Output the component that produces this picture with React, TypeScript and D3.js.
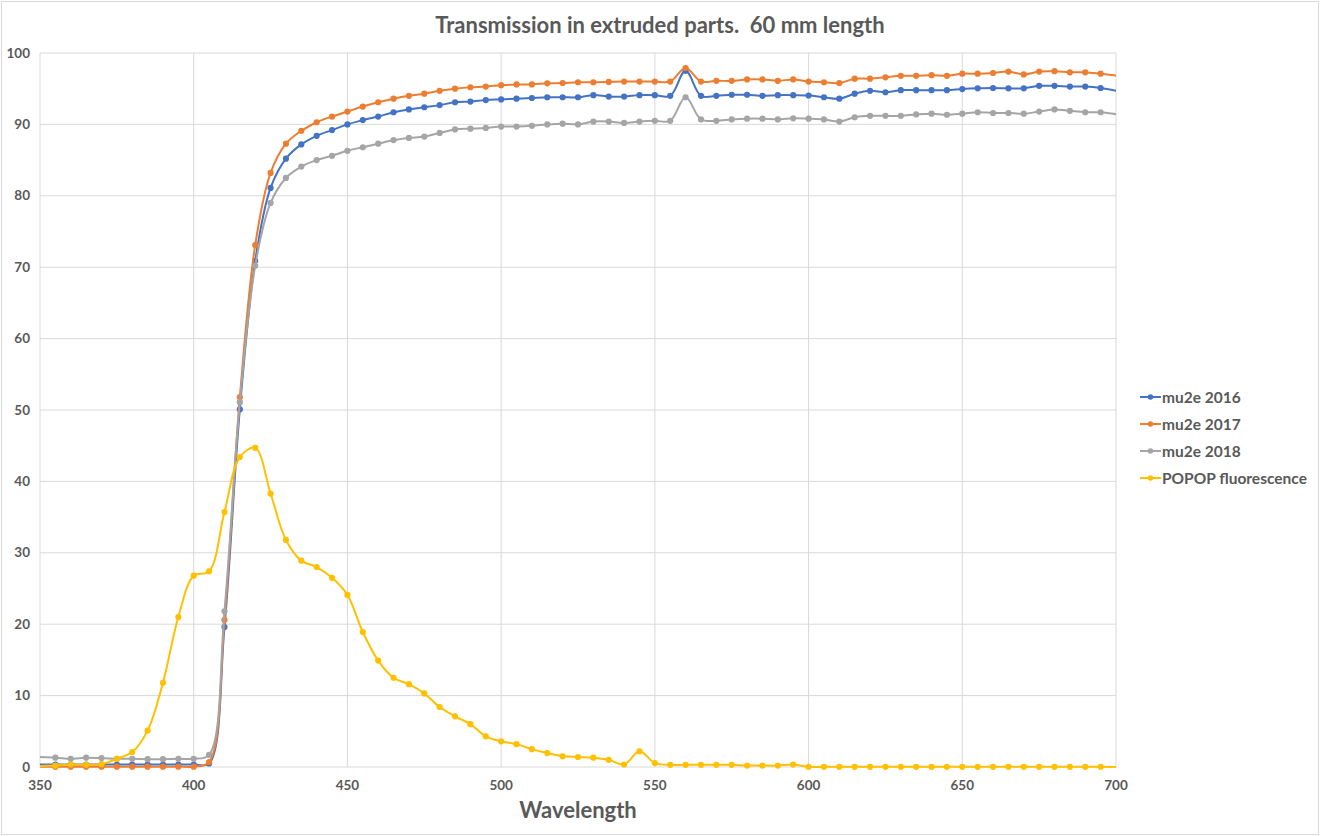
import React, { useEffect, useRef } from "react";
import * as d3 from "d3";

// Wavelength samples (nm); 345 and 705 lie just outside the axis and are clipped
const wavelengths = [
  345, 355, 360, 365, 370, 375, 380, 385, 390, 395, 400, 405, 410, 415, 420, 425, 430, 435, 440, 445,
  450, 455, 460, 465, 470, 475, 480, 485, 490, 495, 500, 505, 510, 515, 520, 525, 530, 535, 540, 545,
  550, 555, 560, 565, 570, 575, 580, 585, 590, 595, 600, 605, 610, 615, 620, 625, 630, 635, 640, 645,
  650, 655, 660, 665, 670, 675, 680, 685, 690, 695, 705,
];

const mu2e2016 = [
  0.35, 0.35, 0.35, 0.35, 0.35, 0.35, 0.35, 0.35, 0.35, 0.35, 0.35, 0.5, 19.6, 50.1, 70.9, 81.1, 85.2, 87.2, 88.4, 89.2,
  90.0, 90.6, 91.1, 91.7, 92.1, 92.4, 92.7, 93.1, 93.2, 93.4, 93.5, 93.6, 93.7, 93.8, 93.8, 93.8, 94.1, 93.9, 93.9, 94.1,
  94.1, 94.0, 97.5, 94.0, 94.0, 94.15, 94.15, 94.0, 94.1, 94.1, 94.05, 93.8, 93.6, 94.3, 94.7, 94.5, 94.8, 94.8, 94.8, 94.8,
  94.95, 95.05, 95.1, 95.05, 95.05, 95.4, 95.4, 95.3, 95.3, 95.1, 94.3,
];

const mu2e2017 = [
  0.05, 0.05, 0.05, 0.05, 0.05, 0.05, 0.05, 0.05, 0.05, 0.05, 0.05, 0.7, 20.6, 51.8, 73.1, 83.2, 87.3, 89.1, 90.3, 91.1,
  91.8, 92.5, 93.1, 93.6, 94.0, 94.3, 94.7, 95.0, 95.2, 95.3, 95.5, 95.6, 95.6, 95.75, 95.8, 95.9, 95.9, 95.95, 96.0, 96.0,
  96.0, 96.0, 97.9, 96.0, 96.1, 96.1, 96.3, 96.3, 96.1, 96.3, 96.0, 95.9, 95.8, 96.4, 96.4, 96.6, 96.8, 96.8, 96.9, 96.8,
  97.1, 97.1, 97.2, 97.4, 97.0, 97.4, 97.45, 97.3, 97.3, 97.1, 96.6,
];

const mu2e2018 = [
  1.45, 1.3, 1.15, 1.3, 1.25, 1.15, 1.15, 1.1, 1.1, 1.15, 1.15, 1.7, 21.8, 51.1, 70.2, 79.0, 82.5, 84.1, 85.0, 85.6,
  86.3, 86.8, 87.3, 87.8, 88.1, 88.3, 88.8, 89.3, 89.4, 89.5, 89.7, 89.7, 89.8, 90.0, 90.1, 90.0, 90.4, 90.4, 90.2, 90.4,
  90.5, 90.5, 93.8, 90.7, 90.5, 90.7, 90.8, 90.8, 90.7, 90.85, 90.8, 90.7, 90.4, 91.0, 91.2, 91.2, 91.2, 91.4, 91.5, 91.35,
  91.5, 91.7, 91.6, 91.6, 91.5, 91.8, 92.1, 91.9, 91.7, 91.7, 91.1,
];

const popop = [
  0.1, 0.2, 0.35, 0.3, 0.4, 1.15, 2.1, 5.1, 11.8, 21.0, 26.8, 27.4, 35.7, 43.4, 44.7, 38.3, 31.8, 28.9, 28.0, 26.5,
  24.1, 18.9, 14.9, 12.5, 11.6, 10.3, 8.4, 7.1, 6.0, 4.3, 3.6, 3.2, 2.5, 1.95, 1.5, 1.4, 1.3, 1.0, 0.35, 2.2,
  0.55, 0.3, 0.3, 0.3, 0.3, 0.3, 0.2, 0.2, 0.2, 0.35, 0.02, 0.02, 0.02, 0.02, 0.02, 0.02, 0.02, 0.02, 0.02, 0.02,
  0.02, 0.02, 0.02, 0.02, 0.02, 0.02, 0.02, 0.02, 0.02, 0.02, 0.0,
];

const seriesNames = ["mu2e 2016", "mu2e 2017", "mu2e 2018", "POPOP fluorescence"];
const seriesColors = ["#4472C4", "#ED7D31", "#A5A5A5", "#FFC000"];
const xTicks = [350, 400, 450, 500, 550, 600, 650, 700];
const yTicks = [0, 10, 20, 30, 40, 50, 60, 70, 80, 90, 100];

const W = 1320;
const H = 836;
const margin = { top: 53, right: 204, bottom: 69, left: 40 };
const font = "Lato, 'Open Sans', sans-serif";
const textColor = "#595959";

function Chart() {
  const ref = useRef<SVGSVGElement>(null);

  useEffect(() => {
    const svg = d3.select(ref.current).html("");
    const pw = W - margin.left - margin.right;
    const ph = H - margin.top - margin.bottom;

    const x = d3.scaleLinear().domain([350, 700]).range([0, pw]);
    const y = d3.scaleLinear().domain([0, 100]).range([ph, 0]);

    // chart border
    svg.append("rect")
      .attr("x", 1.5).attr("y", 1.5)
      .attr("width", W - 3).attr("height", H - 3)
      .attr("fill", "white").attr("stroke", "#D9D9D9");

    svg.append("text")
      .attr("x", W / 2).attr("y", 33)
      .attr("text-anchor", "middle")
      .style("white-space", "pre")
      .style("font-family", font).style("font-weight", 700).style("font-size", "22px")
      .attr("fill", textColor)
      .text("Transmission in extruded parts.  60 mm length");

    const g = svg.append("g").attr("transform", `translate(${margin.left},${margin.top})`);

    svg.append("defs").append("clipPath").attr("id", "plotClip")
      .append("rect").attr("x", 0).attr("y", -10).attr("width", pw).attr("height", ph + 20);

    // gridlines
    g.selectAll(".hgrid").data(yTicks).join("line")
      .attr("x1", 0).attr("x2", pw)
      .attr("y1", (d) => y(d)).attr("y2", (d) => y(d))
      .attr("stroke", "#D9D9D9").attr("stroke-width", 1);
    g.selectAll(".vgrid").data(xTicks).join("line")
      .attr("x1", (d) => x(d)).attr("x2", (d) => x(d))
      .attr("y1", 0).attr("y2", ph)
      .attr("stroke", "#D9D9D9").attr("stroke-width", 1);

    // tick labels
    g.selectAll(".ylab").data(yTicks).join("text")
      .attr("x", -10).attr("y", (d) => y(d) + 4.5)
      .attr("text-anchor", "end")
      .style("font-family", font).style("font-weight", 700).style("font-size", "13.5px")
      .attr("fill", textColor)
      .text((d) => d);
    g.selectAll(".xlab").data(xTicks).join("text")
      .attr("x", (d) => x(d)).attr("y", ph + 23)
      .attr("text-anchor", "middle")
      .style("font-family", font).style("font-weight", 700).style("font-size", "13.5px")
      .attr("fill", textColor)
      .text((d) => d);

    g.append("text")
      .attr("x", pw / 2).attr("y", ph + 51)
      .attr("text-anchor", "middle")
      .style("font-family", font).style("font-weight", 700).style("font-size", "22px")
      .attr("fill", textColor)
      .text("Wavelength");

    const allSeries = [mu2e2016, mu2e2017, mu2e2018, popop];
    const line = d3.line<[number, number]>()
      .x((d) => x(d[0]))
      .y((d) => y(d[1]))
      .curve(d3.curveCatmullRom.alpha(0.5));

    const plot = g.append("g").attr("clip-path", "url(#plotClip)");

    // POPOP drawn last so it sits on top, like the reference
    allSeries.forEach((vals, i) => {
      const pts: [number, number][] = wavelengths.map((w, j) => [w, vals[j]]);
      plot.append("path")
        .datum(pts)
        .attr("fill", "none")
        .attr("stroke", seriesColors[i])
        .attr("stroke-width", 2)
        .attr("d", line);
      plot.selectAll(`.dot${i}`).data(pts).join("circle")
        .attr("cx", (d) => x(d[0])).attr("cy", (d) => y(d[1]))
        .attr("r", 3.1)
        .attr("fill", seriesColors[i]);
    });

    // legend
    const lg = svg.append("g").attr("transform", "translate(1140,397)");
    seriesNames.forEach((name, i) => {
      const row = lg.append("g").attr("transform", `translate(0,${i * 27})`);
      row.append("line").attr("x1", 0).attr("x2", 21).attr("y1", 0).attr("y2", 0)
        .attr("stroke", seriesColors[i]).attr("stroke-width", 2);
      row.append("circle").attr("cx", 10.5).attr("cy", 0).attr("r", 2.8).attr("fill", seriesColors[i]);
      row.append("text")
        .attr("x", 22).attr("y", 5.5)
        .style("font-family", font).style("font-weight", 700).style("font-size", "15.5px")
        .attr("fill", textColor)
        .text(name);
    });
  }, []);

  return <svg ref={ref} width={W} height={H} style={{ position: "absolute", left: 0, top: 0 }} />;
}

export default function App() {
  return <Chart />;
}
